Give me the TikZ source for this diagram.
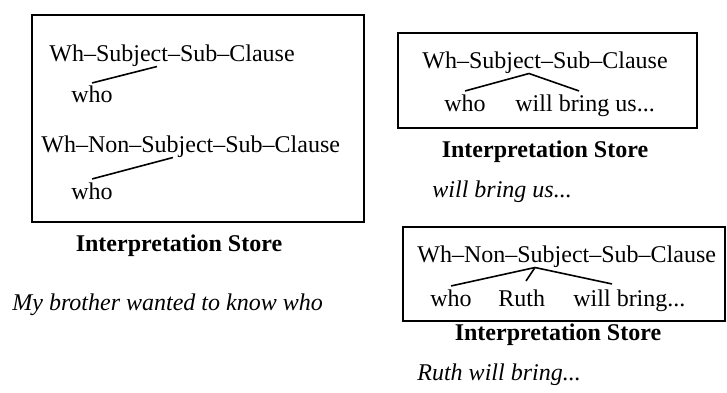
\documentclass[tikz,border=0pt]{standalone}
\usepackage{fontspec}
\setmainfont{Liberation Serif}
\usepackage{tikz}
\usetikzlibrary{positioning,calc}

\begin{document}
\begin{tikzpicture}[
  x=0.5pt, y=-0.5pt,
  font=\fontsize{12}{14}\selectfont,
  % one style per kind of text, the frames and the branches share one width
  cat/.style={inner sep=0pt,anchor=base west},
  wd/.style={inner sep=0pt,anchor=base west},
  ttl/.style={inner sep=0pt,anchor=base,font=\fontsize{12}{14}\selectfont\bfseries},
  sent/.style={inner sep=0pt,anchor=base west,font=\fontsize{12}{14}\selectfont\itshape},
  store/.style={draw,line width=0.8pt},
  br/.style={line width=0.8pt},
]
\useasboundingbox (0,0) rectangle (727,392);

% =========== left: the store after "who" ===================================
\draw[store] (32,15) rectangle (364,222);
\node[cat] (subjA) at (49,61) {Wh--Subject--Sub--Clause};
\node[wd]  (whoA)  at (71,102) {who};
\draw[br] ([yshift=1pt]whoA.north) -- ([xshift=54pt]subjA.south west);
\node[cat] (nsubjA) at (41,152) {Wh--Non--Subject--Sub--Clause};
\node[wd]  (whoB)   at (71,199) {who};
\draw[br] ([yshift=1.5pt]whoB.north) -- ([xshift=66pt]nsubjA.south west);
\node[ttl] (ttlA) at (179,251) {Interpretation Store};
\node[sent] (sentA) at (12,310) {My brother wanted to know who};

% =========== top right: subject reading ====================================
\draw[store] (398,33) rectangle (697,128);
\node[cat] (subjB) at (422,68) {Wh--Subject--Sub--Clause};
\node[wd]  (whoC)  at (444,111) {who};
\node[wd]  (willA) at (515,111) {will bring us...};
\draw[br] ([yshift=1.5pt]whoC.north) -- ([xshift=53.5pt]subjB.south west)
  -- ([xshift=32pt,yshift=1.5pt]willA.north west);
\node[ttl] (ttlB) at (545,157) {Interpretation Store};
\node[sent] (sentB) at (432,197) {will bring us...};

% =========== bottom right: non-subject reading ==============================
\draw[store] (403,227) rectangle (725,321);
\node[cat] (nsubjB) at (417,262) {Wh--Non--Subject--Sub--Clause};
\node[wd]  (whoD)   at (430,306) {who};
\node[wd]  (ruth)   at (498,306) {Ruth};
\node[wd]  (willB)  at (573,306) {will bring...};
\draw[br] ([yshift=1.5pt]whoD.north) -- ([xshift=59pt]nsubjB.south west)
  -- ([xshift=19.5pt,yshift=2.5pt]willB.north west);
\draw[br] ([xshift=14pt,yshift=4pt]ruth.north west) -- ([xshift=59pt]nsubjB.south west);
\node[ttl] (ttlC) at (558,340) {Interpretation Store};
\node[sent] (sentC) at (417,380) {Ruth will bring...};

\end{tikzpicture}
\end{document}
